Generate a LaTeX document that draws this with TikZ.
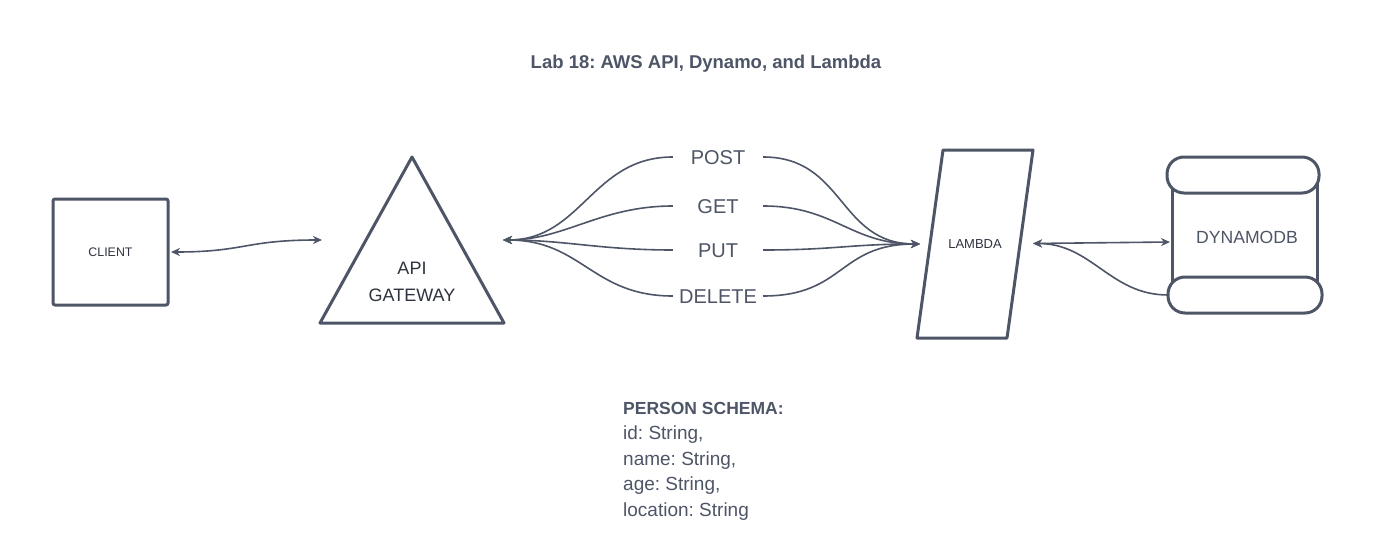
\documentclass[tikz,border=0pt]{standalone}
\usepackage{fontspec}
\setmainfont{Liberation Sans}
\usetikzlibrary{arrows.meta}
\definecolor{ink}{HTML}{4E5567}
\definecolor{txt}{HTML}{2F333F}
\frenchspacing
\begin{document}
\begin{tikzpicture}[x=1pt,y=-1pt,
  shapeline/.style={draw=ink, line width=3pt, line join=round},
  conn/.style={draw=ink, line width=1.6pt},
  tipend/.style={-{Stealth[length=9pt,width=8pt]}},
  tipboth/.style={{Stealth[length=9pt,width=8pt]}-{Stealth[length=9pt,width=8pt]}},
  meth/.style={font=\fontsize{20}{24}\selectfont, text=ink, minimum width=90pt, inner sep=0pt, text height=14.3pt, text depth=0pt},
  lbl/.style={text=txt, inner sep=0pt}]
\useasboundingbox[fill=white] (0,0) rectangle (1391,559);

% title
\node[font=\fontsize{18.5}{22}\selectfont\bfseries, text=ink, anchor=base, inner sep=0pt] (title) at (706,68.6) {Lab 18: AWS API, Dynamo, and Lambda};

% client
\node[shapeline, rounded corners=2pt, minimum width=115pt, minimum height=106pt, inner sep=0pt,
  font=\fontsize{12.4}{14}\selectfont, text=txt] (client) at (110.5,252) {CLIENT};

% api gateway triangle
\draw[shapeline] (412,157) -- (504,323) -- (320,323) -- cycle;
\node[lbl, align=center, font=\fontsize{18}{27}\selectfont] (api) at (412,282) {API\\GATEWAY};
\coordinate (apiL) at (322,240);
\coordinate (apiR) at (503,240);

% client <-> api
\draw[conn, tipboth] ([xshift=1.5pt]client.east) .. controls (245,252) and (245,240) .. (apiL);

% method labels
\node[meth] (post) at (718,157) {POST};
\node[meth] (get) at (718,206) {GET};
\node[meth] (put) at (718,250) {PUT};
\node[meth] (delete) at (718,296) {DELETE};

% lambda
\draw[shapeline] (943,150) -- (1033,150) -- (1007,338) -- (917,338) -- cycle;
\node[lbl, font=\fontsize{13}{15}\selectfont] (lambda) at (975,244) {LAMBDA};
\coordinate (lamL) at (920,244);
\coordinate (lamR) at (1033,243.5);

% method curves to api
\draw[conn, tipend] (post.west) .. controls (592,157) and (582,240) .. (apiR);
\draw[conn, tipend] (get.west) .. controls (600,206) and (565,240) .. (apiR);
\draw[conn, tipend] (put.west) .. controls (600,250) and (565,240) .. (apiR);
\draw[conn, tipend] (delete.west) .. controls (592,296) and (582,240) .. (apiR);
% method curves to lambda
\draw[conn, tipend] (post.east) .. controls (845,157) and (838,244) .. (lamL);
\draw[conn, tipend] (get.east) .. controls (835,206) and (850,244) .. (lamL);
\draw[conn, tipend] (put.east) .. controls (835,250) and (850,244) .. (lamL);
\draw[conn, tipend] (delete.east) .. controls (845,296) and (838,244) .. (lamL);

% dynamodb
\draw[shapeline, rounded corners=17pt] (1167,157) rectangle (1319,193);
\draw[shapeline, rounded corners=17pt] (1168,277) rectangle (1322,313);
\draw[shapeline] (1172,188.5) -- (1172,282.5);
\draw[shapeline] (1317,183.5) -- (1317,282.5);
\node[text=ink, inner sep=0pt, font=\fontsize{17.6}{20}\selectfont] (dynamo) at (1247,237) {DYNAMODB};
\coordinate (dynL) at (1170,242);
\coordinate (dynB) at (1168,295);

\draw[conn, tipboth] (lamR) -- (dynL);
\draw[conn, tipend] (dynB) .. controls (1110,295) and (1092,243.5) .. (lamR);

% schema
\node[anchor=base west, align=left, font=\fontsize{19}{25.5}\selectfont, text=ink, inner sep=0pt] (schema) at (623,516)
  {{\fontsize{17.5}{25.5}\selectfont\bfseries PERSON SCHEMA:}\\id: String,\\name: String,\\age: String,\\location: String};
\end{tikzpicture}
\end{document}
